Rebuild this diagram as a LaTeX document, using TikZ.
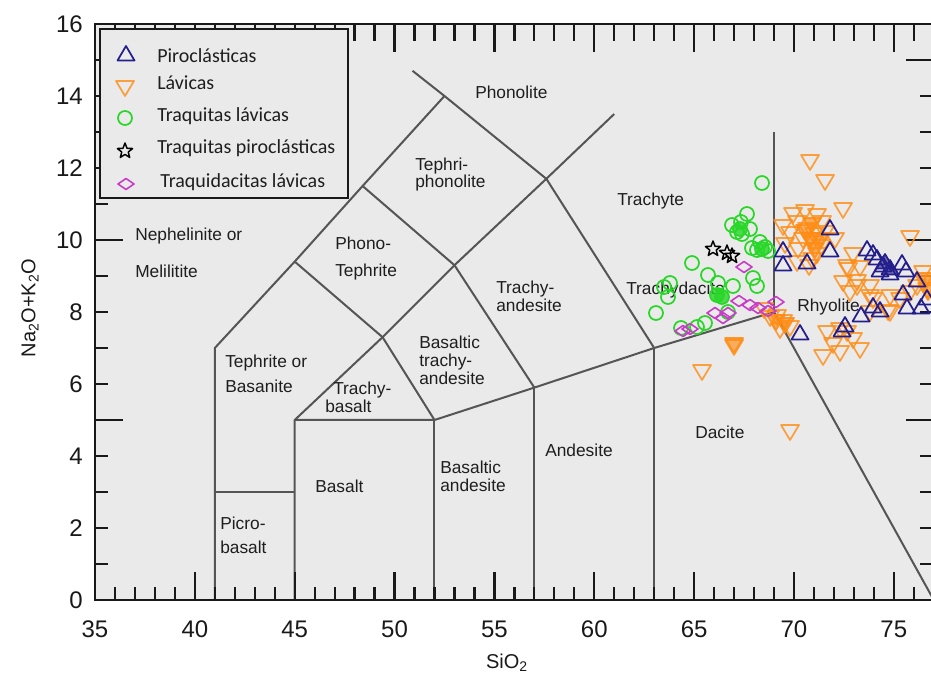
\documentclass[tikz,border=0pt]{standalone}
\usepackage{fontspec}
\setmainfont{Liberation Sans}
\newfontfamily\calfont{Carlito}
\definecolor{plotbg}{RGB}{234,234,234}
\definecolor{bdline}{RGB}{85,85,85}
\definecolor{axcol}{RGB}{25,25,25}
\definecolor{orng}{RGB}{255,140,20}
\definecolor{navyb}{RGB}{35,30,140}
\definecolor{grn}{RGB}{40,215,40}
\definecolor{mag}{RGB}{200,60,200}
\definecolor{txt}{RGB}{30,30,30}
\tikzset{
  bd/.style={draw=bdline, line width=1.5pt, line join=round},
  axframe/.style={draw=axcol, line width=2.2pt},
  tk/.style={draw=axcol, line width=1.7pt},
  lbl/.style={font=\fontsize{13}{15}\selectfont, text=txt, inner sep=0pt, anchor=base west},
  ticklbl/.style={font=\fontsize{18}{18}\selectfont, text=axcol, inner sep=0pt},
  leglbl/.style={font=\calfont\fontsize{15}{15}\selectfont, text=txt, inner sep=0pt, anchor=base west},
  mtup/.pic={\draw[navyb, line width=1.3pt, line join=round] (0,-8)--(8.5,6.5)--(-8.5,6.5)--cycle;},
  mtupf/.pic={\draw[navyb, fill=navyb, fill opacity=0.6, line width=1.3pt, line join=round] (0,-8)--(8.5,6.5)--(-8.5,6.5)--cycle;},
  mtdn/.pic={\draw[orng, draw opacity=0.8, line width=1.3pt, line join=round] (0,8)--(9,-7)--(-9,-7)--cycle;},
  mtdnf/.pic={\draw[orng, draw opacity=0.85, fill=orng, fill opacity=0.65, line width=1.3pt, line join=round] (0,8)--(9,-7)--(-9,-7)--cycle;},
  mcir/.pic={\draw[grn, line width=1.3pt] (0,0) circle[radius=5.25pt];},
  mcirf/.pic={\draw[grn, fill=grn, fill opacity=0.8, line width=1.3pt] (0,0) circle[radius=5.25pt];},
  mdia/.pic={\draw[mag, line width=1.2pt, line join=round] (-8,0)--(0,-5.5)--(8,0)--(0,5.5)--cycle;},
  mstar/.pic={\draw[black, line width=1.1pt, line join=round] (-90:8)--(-54:3.4)--(-18:8)--(18:3.4)--(54:8)--(90:3.4)--(126:8)--(162:3.4)--(198:8)--(234:3.4)--cycle;}
}
\begin{document}
\begin{tikzpicture}[x=0.75pt,y=-0.75pt]
\clip (0,0) rectangle (931,680);
\fill[white] (0,0) rectangle (931,680);
\fill[plotbg] (95,24) rectangle (934,600);

% field boundaries (data coordinates)
\begin{scope}[shift={(-603.95,600)},x=14.9775pt,y=27pt]
  \draw[bd] (41,0)--(41,7)--(45,9.4)--(48.4,11.5)--(52.5,14);
  \draw[bd] (41,3)--(45,3);
  \draw[bd] (45,0)--(45,5)--(49.4,7.3)--(53,9.3)--(57.6,11.7)--(61,13.5);
  \draw[bd] (45,5)--(52,5)--(57,5.9)--(63,7)--(69,8)--(77,0);
  \draw[bd] (52,0)--(52,5);
  \draw[bd] (57,0)--(57,5.9);
  \draw[bd] (63,0)--(63,7);
  \draw[bd] (69,8)--(69,13);
  \draw[bd] (45,9.4)--(49.4,7.3)--(52,5);
  \draw[bd] (48.4,11.5)--(53,9.3)--(57,5.9);
  \draw[bd] (50.9,14.7)--(52.5,14)--(57.6,11.7)--(63,7);
\end{scope}

% ticks
\foreach \i in {36,...,76}{
  \draw[tk] ({95+(\i-35)*19.97},600)--({95+(\i-35)*19.97},587);
  \draw[tk] ({95+(\i-35)*19.97},24)--({95+(\i-35)*19.97},41);
}
\foreach \i in {40,45,...,75}{
  \draw[tk] ({95+(\i-35)*19.97},600)--({95+(\i-35)*19.97},572);
  \draw[tk] ({95+(\i-35)*19.97},24)--({95+(\i-35)*19.97},52);
}
\foreach \j in {1,...,15}{
  \draw[tk] (95,{600-\j*36})--(108,{600-\j*36});
  \draw[tk] (934,{600-\j*36})--(920,{600-\j*36});
}
\foreach \j in {5,10,15}{
  \draw[tk] (95,{600-\j*36})--(123,{600-\j*36});
  \draw[tk] (934,{600-\j*36})--(906,{600-\j*36});
}
\draw[axframe] (95,24) rectangle (934,600);

% tick labels
\foreach \j in {0,2,...,16}
  \node[ticklbl, anchor=east] (yl\j) at (83,{600-\j*36}) {\j};
\foreach \i in {35,40,...,75}
  \node[ticklbl, anchor=base] (xl\i) at ({95+(\i-35)*19.97},637) {\i};
\node[font=\fontsize{15}{15}\selectfont, text=axcol, rotate=90, inner sep=0pt] (ytitle) at (30,308) {Na\textsubscript{2}O+K\textsubscript{2}O};
\node[font=\fontsize{15}{15}\selectfont, text=axcol, anchor=base, inner sep=0pt] (xtitle) at (507,668) {SiO\textsubscript{2}};

% field labels
\node[lbl] (phon) at (475,99) {Phonolite};
\node[lbl] (tph1) at (415,171) {Tephri-};
\node[lbl] (tph2) at (415,188) {phonolite};
\node[lbl] (trte) at (617,206) {Trachyte};
\node[lbl] (neph) at (135,241) {Nephelinite or};
\node[lbl] (meli) at (135,278) {Melilitite};
\node[lbl] (pht1) at (335,250) {Phono-};
\node[lbl] (pht2) at (335,277) {Tephrite};
\node[lbl] (teph) at (225,368) {Tephrite or};
\node[lbl] (basn) at (225,393) {Basanite};
\node[lbl] (trb1) at (333,395) {Trachy-};
\node[lbl] (trb2) at (325,413) {basalt};
\node[lbl] (bslt) at (315,492) {Basalt};
\node[lbl] (pic1) at (220,529) {Picro-};
\node[lbl] (pic2) at (220,553) {basalt};
\node[lbl] (bta1) at (419,349) {Basaltic};
\node[lbl] (bta2) at (419,367) {trachy-};
\node[lbl] (bta3) at (419,385) {andesite};
\node[lbl] (tra1) at (496,294) {Trachy-};
\node[lbl] (tra2) at (496,312) {andesite};
\node[lbl] (ba1) at (440,473) {Basaltic};
\node[lbl] (ba2) at (440,491) {andesite};
\node[lbl] (ande) at (545,456) {Andesite};
\node[lbl] (trdc) at (626,295) {Trachydacite};
\node[lbl] (rhyo) at (797,312) {Rhyolite};
\node[lbl] (daci) at (695,439) {Dacite};

% data: lavas (orange)
\foreach \x/\y in {810/162, 825/182, 843/210, 910/238, 734/347, 702/372, 790/432,
  793/215, 805/212, 817/216, 797/223, 822/223, 783/227, 807/230, 814/235, 825/233, 790/234,
  813/243, 821/247, 803/240, 798/250, 817/255, 812/260, 809/267, 835/240, 785/245,
  853/255, 848/270, 860/268, 843/283, 857/287, 870/287, 850/293, 870/297, 890/297, 910/293,
  917/287, 923/273, 927/290, 870/313, 890/313, 873/300, 888/312, 925/283, 797/263, 847/267,
  857/282, 900/300, 777/317, 783/322, 790/328, 780/330, 827/333, 840/330, 847/333, 833/345,
  853/340, 840/353, 823/357, 860/350, 770/318, 764/310}
  \pic at (\x,\y) {mtdn};
\foreach \x/\y in {810/240, 815/250, 805/232, 820/240, 812/225, 925/280, 928/292, 785/325, 776/322, 734/345}
  \pic at (\x,\y) {mtdnf};

% data: pyroclastics (blue)
\foreach \x/\y in {783/250, 783/264, 807/262, 830/228, 830/250, 867/249, 873/253, 877/258,
  883/265, 880/270, 890/273, 902/263, 906/270, 917/280, 873/306, 880/310, 861/315, 845/325,
  800/333, 842/330, 907/307, 921/307, 903/293, 927/298}
  \pic at (\x,\y) {mtup};
\foreach \x/\y in {885/262, 890/268}
  \pic at (\x,\y) {mtupf};

% data: trachytes (green)
\foreach \x/\y in {762/183, 732/225, 741/222, 747/214, 737/232, 750/229, 742/234, 760/242,
  765/247, 752/248, 757/250, 768/251, 692/263, 708/275, 718/283, 733/286, 753/278, 757/286,
  670/283, 664/287, 668/297, 656/313, 681/328, 705/323, 697/327, 728/312}
  \pic at (\x,\y) {mcir};
\foreach \x/\y in {740/229, 717/295, 762/249, 722/297}
  \pic at (\x,\y) {mcirf};

% data: trachydacites (magenta)
\foreach \x/\y in {744/267, 739/301, 750/305, 758/308, 768/311, 776/302, 715/313, 723/318,
  728/313, 683/331, 690/329}
  \pic at (\x,\y) {mdia};

% data: pyroclastic trachytes (stars)
\foreach \x/\y in {713/249, 727/253, 732/256}
  \pic at (\x,\y) {mstar};

% legend
\draw[draw=axcol, line width=1.5pt, fill=plotbg] (100,29) rectangle (348,198);
\pic at (126,54) {mtup};
\pic at (125,88) {mtdn};
\pic at (125,118) {mcir};
\pic at (125,151) {mstar};
\pic at (126,184) {mdia};
\node[leglbl] (lg1) at (157,63) {Piroclásticas};
\node[leglbl] (lg2) at (157,90) {Lávicas};
\node[leglbl] (lg3) at (157,122) {Traquitas lávicas};
\node[leglbl] (lg4) at (157,154) {Traquitas piroclásticas};
\node[leglbl] (lg5) at (160,188) {Traquidacitas lávicas};
\end{tikzpicture}
\end{document}
